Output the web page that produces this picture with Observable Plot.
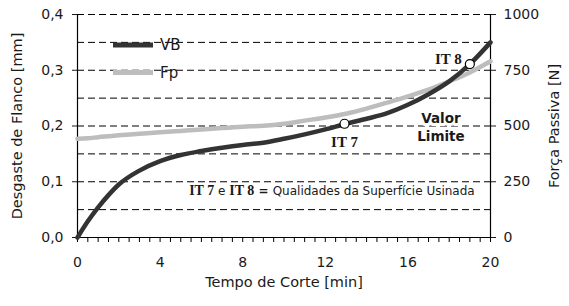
<!DOCTYPE html>
<html><head><meta charset="utf-8">
<script src="https://cdn.jsdelivr.net/npm/d3@7"></script>
<script src="https://cdn.jsdelivr.net/npm/@observablehq/plot@0.6"></script>
<style>
body{margin:0;background:#fff}
#chart{width:569px;height:306px}
</style>
</head><body><div id="chart"></div>
<script>
// ---- data ----
const time = [0, 0.5, 1, 1.5, 2, 3, 4, 5, 6, 7, 8, 9, 10, 11, 12, 13, 14, 15, 16, 17, 18, 19, 20];
const vbMm = [0.000, 0.029, 0.054, 0.076, 0.095, 0.120, 0.137, 0.148, 0.155, 0.161, 0.166, 0.170, 0.177, 0.185, 0.194, 0.204, 0.213, 0.223, 0.238, 0.257, 0.280, 0.311, 0.350];
const fpN = [443, 445, 450, 454, 458, 465, 472, 478, 484, 491, 497, 501, 510, 524, 538, 555, 578, 605, 633, 663, 700, 740, 790];
const seriesNames = ["VB", "Fp"];
const xTicks = [0, 4, 8, 12, 16, 20];
const xMinorTicks = d3.range(0, 20.01, 0.5);
const yTicksMm = [0, 0.1, 0.2, 0.3, 0.4];
const yTicksN = [0, 250, 500, 750, 1000];
const gridMm = [0.05, 0.1, 0.15, 0.2, 0.25, 0.3, 0.35, 0.4];
const itPoints = [
  {label: "IT 7", t: 12.93, vb: 0.204},
  {label: "IT 8", t: 19.0, vb: 0.311}
];
const limitNote = {text: "Valor\nLimite", t: 17.6, mm: 0.199};
const qualityNote = {text: "IT 7 e IT 8 = Qualidades da Superfície Usinada", t: 12.32, mm: 0.083};
const xLabel = "Tempo de Corte [min]";
const yLabelLeft = "Desgaste de Flanco [mm]";
const yLabelRight = "Força Passiva [N]";
const N_PER_MM = 2500; // 1000 N on right axis <-> 0.4 mm on left axis

const colors = {VB: "#333333", Fp: "#bdbdbd"};
const vbData = time.map((t, i) => ({t, v: vbMm[i]}));
const fpData = time.map((t, i) => ({t, v: fpN[i] / N_PER_MM}));

const FONT = "DejaVu Sans, Verdana, sans-serif";
const TXT = "#1a1a1a";

function legendMark(index, scales, values, dim) {
  const g = d3.create("svg:g");
  seriesNames.forEach((name, i) => {
    const y = dim.marginTop + 31 + i * 27.5;
    g.append("line")
      .attr("x1", dim.marginLeft + 36).attr("x2", dim.marginLeft + 76)
      .attr("y1", y).attr("y2", y)
      .attr("stroke", colors[name]).attr("stroke-width", 5);
    g.append("text")
      .attr("x", dim.marginLeft + 83).attr("y", y).attr("dy", "0.36em")
      .attr("text-anchor", "start")
      .attr("font-family", FONT).attr("font-size", 15).attr("fill", TXT)
      .text(name);
  });
  return g.node();
}

const plot = Plot.plot({
  width: 569,
  height: 306,
  marginLeft: 77,
  marginRight: 79,
  marginTop: 14,
  marginBottom: 69,
  style: {fontFamily: FONT, fontSize: "14px", color: TXT, background: "#fff", overflow: "visible"},
  x: {domain: [0, 20]},
  y: {domain: [0, 0.4]},
  marks: [
    Plot.ruleY(gridMm, {stroke: "#000", strokeWidth: 1, strokeDasharray: "7,4"}),
    Plot.ruleX([0, 20], {stroke: "#000", strokeWidth: 1.2}),
    Plot.ruleY([0], {stroke: "#000", strokeWidth: 1.2}),
    Plot.axisX({ticks: xMinorTicks, tickSize: 5, tickPadding: 15, tickFormat: d => (d % 4 === 0 ? String(d) : ""), fontSize: 14, label: null, stroke: "#000"}),
    Plot.axisY({anchor: "left", ticks: yTicksMm, tickSize: 5, tickPadding: 9, tickFormat: d => d.toFixed(1).replace(".", ","), fontSize: 14, label: null}),
    Plot.axisY({anchor: "right", ticks: yTicksN.map(n => n / N_PER_MM), tickSize: 5, tickPadding: 8, tickFormat: d => String(Math.round(d * N_PER_MM)), fontSize: 14, label: null}),
    Plot.line(fpData, {x: "t", y: "v", stroke: colors.Fp, strokeWidth: 4.5, curve: "monotone-x"}),
    Plot.line(vbData, {x: "t", y: "v", stroke: colors.VB, strokeWidth: 4.5, curve: "monotone-x"}),
    Plot.dot(itPoints, {x: "t", y: "vb", r: 4.5, fill: "#fff", stroke: "#000", strokeWidth: 1.2}),
    Plot.text([itPoints[0]], {x: "t", y: "vb", text: "label", dy: 18, textAnchor: "middle", fontFamily: "Liberation Serif, serif", fontWeight: "bold", fontSize: 15, fill: TXT, stroke: "#fff", strokeWidth: 4}),
    Plot.text([itPoints[1]], {x: "t", y: "vb", text: "label", dx: -8, dy: -5, textAnchor: "end", fontFamily: "Liberation Serif, serif", fontWeight: "bold", fontSize: 15, fill: TXT, stroke: "#fff", strokeWidth: 4}),
    Plot.text([limitNote], {x: "t", y: "mm", text: "text", textAnchor: "middle", lineAnchor: "middle", lineHeight: 1.35, fontWeight: "bold", fontSize: 13.5, fill: TXT, stroke: "#fff", strokeWidth: 6}),
    Plot.text([qualityNote], {x: "t", y: "mm", text: "text", textAnchor: "middle", fontSize: 12, fill: TXT}),
    Plot.text([xLabel], {frameAnchor: "bottom", dy: 49, fontSize: 14.5, fill: TXT}),
    Plot.text([yLabelLeft], {frameAnchor: "left", textAnchor: "middle", dx: -60, rotate: -90, fontSize: 14.5, fill: TXT}),
    Plot.text([yLabelRight], {frameAnchor: "right", textAnchor: "middle", dx: 64, rotate: -90, fontSize: 14.5, fill: TXT}),
    legendMark
  ]
});

// style the mixed-font quality note
d3.select(plot).selectAll("text").each(function() {
  if (this.textContent === qualityNote.text) {
    const el = d3.select(this);
    el.text("");
    const parts = [
      ["IT 7", true], [" e ", false], ["IT 8", true], [" = ", "eq"], ["Qualidades da Superfície Usinada", false]
    ];
    parts.forEach(([s, b]) => {
      const ts = el.append("tspan").text(s);
      if (b === true) ts.attr("font-family", "Liberation Serif, serif").attr("font-weight", "bold").attr("font-size", 14);
      if (b === "eq") ts.attr("font-weight", "bold");
    });
  }
});

document.getElementById("chart").append(plot);
</script>
</body></html>
